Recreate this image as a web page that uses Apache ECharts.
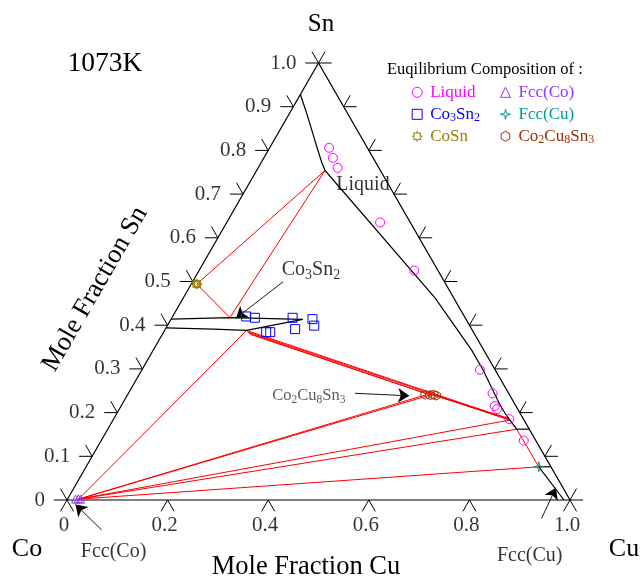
<!DOCTYPE html>
<html>
<head>
<meta charset="utf-8">
<script src="https://cdn.jsdelivr.net/npm/echarts@6.0.0/dist/echarts.min.js"></script>
<style>
html,body{margin:0;padding:0;background:#ffffff;}
#chart{width:641px;height:580px;}
</style>
</head>
<body>
<div id="chart"></div>
<script>
// ---------- data: compositions given as [xCu, xSn] ----------
const leftTicks = [0,0.1,0.2,0.3,0.4,0.5,0.6,0.7,0.8,0.9,1.0];
const leftTickLabels = ['0','0.1','0.2','0.3','0.4','0.5','0.6','0.7','0.8','0.9','1.0'];
const bottomTicks = [0,0.2,0.4,0.6,0.8,1.0];
const bottomTickLabels = ['0','0.2','0.4','0.6','0.8','1.0'];
const rightTicks = [0,0.1,0.2,0.3,0.4,0.5,0.6,0.7,0.8,0.9,1.0];

const liquidPts = [[0.118,0.806],[0.137,0.783],[0.158,0.760],[0.305,0.635],[0.428,0.525],
  [0.672,0.298],[0.724,0.244],[0.743,0.215],[0.751,0.208],[0.787,0.185],[0.840,0.136]];
const co3sn2Pts = [[0.146,0.420],[0.165,0.417],[0.240,0.417],[0.281,0.414],[0.292,0.399],
  [0.258,0.391],[0.204,0.384],[0.212,0.384]];
const cosnPts = [[0.009,0.494],[0.011,0.495],[0.013,0.493]];
const fccCoPts = [[0.016,0.002],[0.021,0.003],[0.026,0.002]];
const fccCuPts = [[0.900,0.076]];
const co2cu8sn3Pts = [[0.592,0.241],[0.602,0.240],[0.608,0.241],[0.614,0.239]];

// phase boundaries (black)
const liquidusLeft = [[0,0.928],[0.034,0.885],[0.063,0.847],[0.092,0.809],[0.119,0.774],[0.136,0.754]];
const liquidusRight = [[0.136,0.754],[0.501,0.462],[0.633,0.343],[0.678,0.298],[0.748,0.222],
  [0.771,0.199],[0.789,0.183],[0.813,0.162]];
const co3sn2Upper = [[0,0.414],[0.115,0.4175],[0.262,0.4135]];
const co3sn2Lower = [[0,0.394],[0.095,0.391],[0.163,0.388],[0.262,0.4135]];
const fccCuSolvus = [[0.900,0.076],[0.988,0]];
const blackTies = [[[0.813,0.162],[0.838,0.162]],[[0.900,0.076],[0.924,0.076]]];

// tie lines (red)
const redTies = [
  [[0.011,0.494],[0.136,0.754]],
  [[0.011,0.494],[0.115,0.4175]],
  [[0.115,0.4175],[0.136,0.754]],
  [[0.022,0.002],[0.163,0.388]],
  [[0.163,0.388],[0.787,0.185]],
  [[0.166,0.385],[0.789,0.183]],
  [[0.170,0.382],[0.603,0.240]],
  [[0.175,0.379],[0.610,0.238]],
  [[0.606,0.241],[0.784,0.187]],
  [[0.612,0.239],[0.789,0.183]],
  [[0.022,0.002],[0.594,0.241]],
  [[0.022,0.002],[0.600,0.2395]],
  [[0.022,0.002],[0.789,0.183]],
  [[0.022,0.002],[0.813,0.162]],
  [[0.022,0.002],[0.900,0.076]],
  [[0.789,0.183],[0.813,0.162],[0.900,0.076]]
];

// annotations
const annoText = ['Liquid','Co{s20|3}Sn{s20|2}','Co{s16|2}Cu{s16|8}Sn{s16|3}','Fcc(Co)','Fcc(Cu)'];
const annoPos = [[0.228,0.721],[0.222,0.526],[0.362,0.238],[0.152,-0.119],[0.984,-0.128]];
const annoSize = [20,20,16.5,20,20];
const annoColor = ['#000','#000','#333','#000','#000'];
const arrowLines = [
  [[0.180,0.4995],[0.128,0.416]],
  [[0.4505,0.2442],[0.561,0.2384]],
  [[0.1033,-0.0686],[0.022,-0.0103]],
  [[0.9646,-0.0419],[0.958,0.0279]]
];

// ---------- helpers ----------
const FONT = "'Liberation Serif','DejaVu Serif',serif";
const TL = 0.026;
function P(p){ return [p[0] + p[1]/2, p[1]]; }
function segs(list){ return list.map(function(pts){ return {coords: pts.map(P)}; }); }

const edges = [[[0,0],[1,0],[0,1],[0,0]]];
const ticks = [];
bottomTicks.forEach(function(t){
  ticks.push([[t,0],[t,-TL]]);
  ticks.push([[t,0],[t+TL,-TL]]);
});
leftTicks.forEach(function(s){
  ticks.push([[0,s],[-TL,s]]);
  ticks.push([[0,s],[-TL,s+TL]]);
});
rightTicks.forEach(function(s){
  ticks.push([[1-s,s],[1-s+TL,s]]);
  ticks.push([[1-s,s],[1-s,s+TL]]);
});

function linesSeries(data, color, width, z, extra){
  return Object.assign({
    type:'lines', coordinateSystem:'cartesian2d', polyline:true, silent:true, clip:false,
    symbol:['none','none'], z:z,
    lineStyle:{color:color, width:width, opacity:1, curveness:0},
    data:data
  }, extra || {});
}

const SYM = {
  liquid:'circle',
  co3sn2:'rect',
  cosn:'path://M50,0 L58,22 L85,15 L78,42 L100,50 L78,58 L85,85 L58,78 L50,100 L42,78 L15,85 L22,58 L0,50 L22,42 L15,15 L42,22 Z',
  fccCo:'triangle',
  fccCu:'path://M50,0 L60,40 L100,50 L60,60 L50,100 L40,60 L0,50 L40,40 Z',
  co2:'path://M50,0 L93.3,25 L93.3,75 L50,100 L6.7,75 L6.7,25 Z'
};
const COL = {liquid:'#ff00ff', co3sn2:'#0000ff', cosn:'#9a7f00', fccCo:'#9933ff', fccCu:'#009999', co2:'#993000'};

function markSeries(name, pts, key, size){
  return {
    type:'scatter', name:name, data:pts.map(P), symbol:SYM[key], symbolSize:size,
    clip:false, silent:true, z:5,
    itemStyle:{color:'rgba(0,0,0,0)', borderColor:COL[key], borderWidth:1, opacity:1}
  };
}
function legendItem(name, key){
  return {name:name, icon:SYM[key], textStyle:{color:COL[key]},
    itemStyle:{color:'rgba(0,0,0,0)', borderColor:COL[key], borderWidth:1}};
}
const legendCommon = {
  orient:'vertical', padding:0, itemWidth:10, itemHeight:10, itemGap:2, selectedMode:false,
  formatter:function(name){
    if(name==='Co3Sn2') return 'Co{b|3}Sn{b|2}';
    if(name==='Co2Cu8Sn3') return 'Co{r|2}Cu{r|8}Sn{r|3}';
    return name;
  },
  textStyle:{fontFamily:FONT, fontSize:17, lineHeight:20, padding:[0,0,0,3],
    rich:{
      b:{fontFamily:FONT, fontSize:12, lineHeight:11.5, verticalAlign:'bottom', color:COL.co3sn2},
      r:{fontFamily:FONT, fontSize:12, lineHeight:11.5, verticalAlign:'bottom', color:COL.co2}
    }}
};

const chart = echarts.init(document.getElementById('chart'), null, {renderer:'canvas'});
const option = {
  backgroundColor:'#ffffff',
  animation:false,
  grid:{left:67, top:63, width:503, height:437},
  xAxis:{type:'value', min:0, max:1, show:false},
  yAxis:{type:'value', min:0, max:1, show:false},
  legend:[
    Object.assign({}, legendCommon, {left:411.7, top:82.3,
      data:[legendItem('Liquid','liquid'), legendItem('Co3Sn2','co3sn2'), legendItem('CoSn','cosn')]}),
    Object.assign({}, legendCommon, {left:500, top:82.3,
      data:[legendItem('Fcc(Co)','fccCo'), legendItem('Fcc(Cu)','fccCu'), legendItem('Co2Cu8Sn3','co2')]})
  ],
  graphic:[
    {type:'text', x:387, y:70, silent:true, style:{text:'Euqilibrium Composition of :', font:'16.5px '+FONT, fill:'#000', align:'left', verticalAlign:'middle'}},
    {type:'text', x:105, y:64, silent:true, style:{text:'1073K', font:'27.5px '+FONT, fill:'#000', align:'center', verticalAlign:'middle'}},
    {type:'text', x:321, y:24, silent:true, style:{text:'Sn', font:'25px '+FONT, fill:'#000', align:'center', verticalAlign:'middle'}},
    {type:'text', x:27, y:549, silent:true, style:{text:'Co', font:'26px '+FONT, fill:'#000', align:'center', verticalAlign:'middle'}},
    {type:'text', x:624, y:549, silent:true, style:{text:'Cu', font:'26px '+FONT, fill:'#000', align:'center', verticalAlign:'middle'}},
    {type:'text', x:306, y:567, silent:true, style:{text:'Mole Fraction Cu', font:'26.5px '+FONT, fill:'#000', align:'center', verticalAlign:'middle'}},
    {type:'text', x:95, y:289, rotation:Math.PI/3, silent:true, style:{text:'Mole Fraction Sn', font:'26.5px '+FONT, fill:'#000', align:'center', verticalAlign:'middle'}}
  ],
  series:[
    linesSeries(segs(edges), '#000', 1.2, 1),
    linesSeries(segs(ticks), '#000', 1, 1),
    linesSeries(segs(redTies), '#ff0000', 1, 2),
    linesSeries(segs([liquidusLeft, liquidusRight, co3sn2Upper, co3sn2Lower, fccCuSolvus].concat(blackTies)), '#000', 1.2, 3),
    linesSeries(segs(arrowLines), '#000', 0.9, 4, {polyline:false, symbol:['none','arrow'], symbolSize:[8,11]}),
    {
      type:'scatter', data:leftTicks.map(function(s){ return P([0,s]); }), symbolSize:0, clip:false, silent:true, z:6,
      label:{show:true, position:'left', distance:22, fontFamily:FONT, fontSize:21, color:'#000',
        formatter:function(p){ return leftTickLabels[p.dataIndex]; }}
    },
    {
      type:'scatter', data:bottomTicks.map(function(t){ return P([t,0]); }), symbolSize:0, clip:false, silent:true, z:6,
      label:{show:true, position:'bottom', distance:15, offset:[-3,0], fontFamily:FONT, fontSize:21, color:'#000',
        formatter:function(p){ return bottomTickLabels[p.dataIndex]; }}
    },
    {
      type:'scatter', symbolSize:0, clip:false, silent:true, z:6,
      data:annoPos.map(function(p, i){
        return {value:P(p), label:{fontSize:annoSize[i], color:annoColor[i], lineHeight: i===1 ? 24 : 20}};
      }),
      label:{show:true, position:'inside', align:'center', verticalAlign:'middle', fontFamily:FONT,
        formatter:function(p){ return annoText[p.dataIndex]; },
        rich:{
          s20:{fontFamily:FONT, fontSize:14, lineHeight:14, verticalAlign:'bottom', color:'#000'},
          s16:{fontFamily:FONT, fontSize:11.5, lineHeight:11.8, verticalAlign:'bottom', color:'#333'}
        }}
    },
    markSeries('Liquid', liquidPts, 'liquid', 9),
    markSeries('Co3Sn2', co3sn2Pts, 'co3sn2', 9),
    markSeries('CoSn', cosnPts, 'cosn', 9),
    markSeries('Fcc(Co)', fccCoPts, 'fccCo', 8),
    markSeries('Fcc(Cu)', fccCuPts, 'fccCu', 10),
    markSeries('Co2Cu8Sn3', co2cu8sn3Pts, 'co2', 9)
  ]
};
chart.setOption(option);
</script>
</body>
</html>
